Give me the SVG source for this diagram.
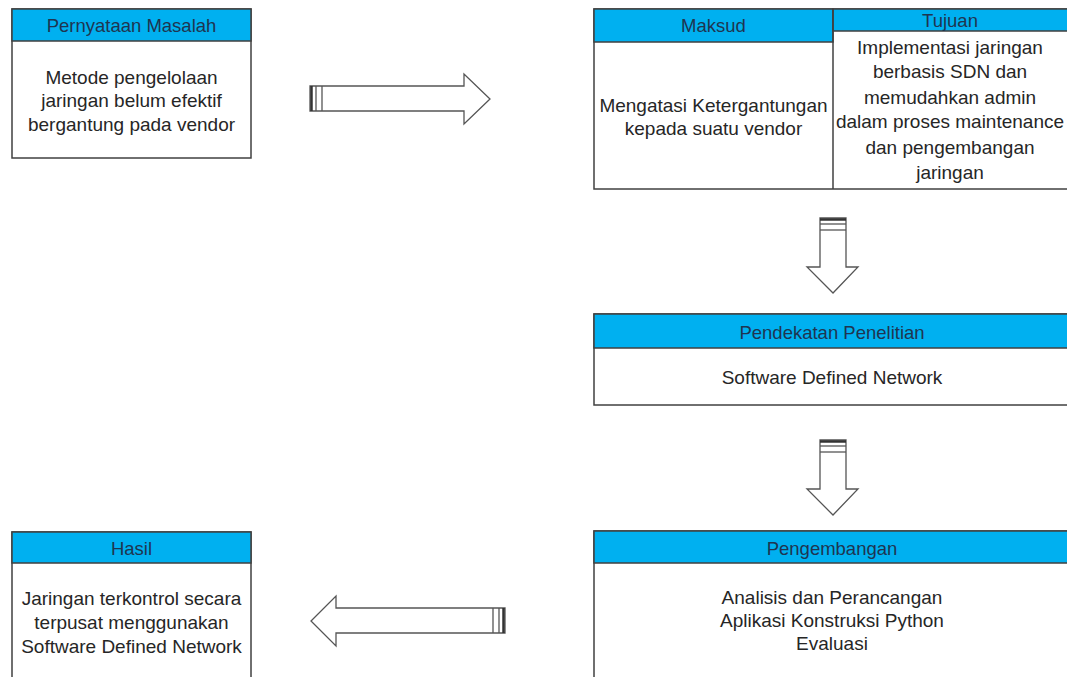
<svg xmlns="http://www.w3.org/2000/svg" width="1067" height="677" viewBox="0 0 1067 677">
  <style>
    .box { fill: #ffffff; stroke: #404040; stroke-width: 1.5; }
    .head { fill: #00b0f0; stroke: #404040; stroke-width: 1.5; }
    .ht { font-family: "Liberation Sans", Arial, sans-serif; font-size: 18.5px; fill: #1f3550; text-anchor: middle; dominant-baseline: central; }
    .bt { font-family: "Liberation Sans", Arial, sans-serif; font-size: 19px; fill: #262626; text-anchor: middle; dominant-baseline: central; }
    .arrow { fill: #ffffff; stroke: #555555; stroke-width: 1.3; stroke-linejoin: miter; }
    .stripe { stroke: #555555; stroke-width: 1.3; fill: none; }
    .stripe-dark { stroke: #333333; stroke-width: 2.5; fill: none; }
  </style>
  <rect width="1067" height="677" fill="#ffffff"/>

  <!-- Pernyataan Masalah -->
  <g id="pernyataan-masalah">
    <rect class="box" x="12" y="9" width="239" height="149"/>
    <rect class="head" x="12" y="9" width="239" height="32"/>
    <text class="ht" x="131.5" y="25">Pernyataan Masalah</text>
    <text class="bt" x="131.5" y="77">Metode pengelolaan</text>
    <text class="bt" x="131.5" y="100.5">jaringan belum efektif</text>
    <text class="bt" x="131.5" y="124">bergantung pada vendor</text>
  </g>

  <!-- Maksud / Tujuan -->
  <g id="maksud-tujuan">
    <rect class="box" x="594" y="9" width="480" height="180"/>
    <rect class="head" x="594" y="9" width="239" height="33"/>
    <rect class="head" x="833" y="9" width="241" height="22"/>
    <line x1="833" y1="9" x2="833" y2="189" stroke="#404040" stroke-width="1.5"/>
    <text class="ht" x="713.5" y="25">Maksud</text>
    <text class="ht" x="950" y="20">Tujuan</text>
    <text class="bt" x="713.5" y="105">Mengatasi Ketergantungan</text>
    <text class="bt" x="713.5" y="128">kepada suatu vendor</text>
    <text class="bt" x="950" y="47">Implementasi jaringan</text>
    <text class="bt" x="950" y="71.5">berbasis SDN dan</text>
    <text class="bt" x="950" y="97">memudahkan admin</text>
    <text class="bt" x="950" y="121.5">dalam proses maintenance</text>
    <text class="bt" x="950" y="147">dan pengembangan</text>
    <text class="bt" x="950" y="172">jaringan</text>
  </g>

  <!-- Pendekatan Penelitian -->
  <g id="pendekatan-penelitian">
    <rect class="box" x="594" y="314" width="480" height="91"/>
    <rect class="head" x="594" y="314" width="480" height="34"/>
    <text class="ht" x="832" y="332">Pendekatan Penelitian</text>
    <text class="bt" x="832" y="377">Software Defined Network</text>
  </g>

  <!-- Pengembangan -->
  <g id="pengembangan">
    <rect class="box" x="594" y="531" width="480" height="160"/>
    <rect class="head" x="594" y="531" width="480" height="32"/>
    <text class="ht" x="832" y="548">Pengembangan</text>
    <text class="bt" x="832" y="597">Analisis dan Perancangan</text>
    <text class="bt" x="832" y="620">Aplikasi Konstruksi Python</text>
    <text class="bt" x="832" y="643">Evaluasi</text>
  </g>

  <!-- Hasil -->
  <g id="hasil">
    <rect class="box" x="12" y="532" width="239" height="160"/>
    <rect class="head" x="12" y="532" width="239" height="31"/>
    <text class="ht" x="131.5" y="548">Hasil</text>
    <text class="bt" x="131.5" y="598">Jaringan terkontrol secara</text>
    <text class="bt" x="131.5" y="622">terpusat menggunakan</text>
    <text class="bt" x="131.5" y="646">Software Defined Network</text>
  </g>

  <!-- block arrows between the stages -->
  <g id="connectors">
    <!-- right: Pernyataan Masalah to Maksud/Tujuan -->
    <polygon class="arrow" points="310,86 464,86 464,74 490,99 464,124 464,111 310,111"/>
    <line class="stripe-dark" x1="311.5" y1="86" x2="311.5" y2="111"/>
    <line class="stripe" x1="316" y1="86" x2="316" y2="111"/>
    <line class="stripe" x1="322" y1="86" x2="322" y2="111"/>

    <!-- down: Maksud/Tujuan to Pendekatan Penelitian -->
    <polygon class="arrow" points="820,218 846,218 846,267 858,267 833,293 807,267 820,267"/>
    <line class="stripe-dark" x1="820" y1="219.5" x2="846" y2="219.5"/>
    <line class="stripe" x1="820" y1="224" x2="846" y2="224"/>
    <line class="stripe" x1="820" y1="230" x2="846" y2="230"/>

    <!-- down: Pendekatan Penelitian to Pengembangan -->
    <polygon class="arrow" points="820,440 846,440 846,489 858,489 833,515 807,489 820,489"/>
    <line class="stripe-dark" x1="820" y1="441.5" x2="846" y2="441.5"/>
    <line class="stripe" x1="820" y1="446" x2="846" y2="446"/>
    <line class="stripe" x1="820" y1="452" x2="846" y2="452"/>

    <!-- left: Pengembangan to Hasil -->
    <polygon class="arrow" points="505,608 336,608 336,596 311,621 336,646 336,633 505,633"/>
    <line class="stripe-dark" x1="503.5" y1="608" x2="503.5" y2="633"/>
    <line class="stripe" x1="499" y1="608" x2="499" y2="633"/>
    <line class="stripe" x1="493" y1="608" x2="493" y2="633"/>
  </g>
</svg>
